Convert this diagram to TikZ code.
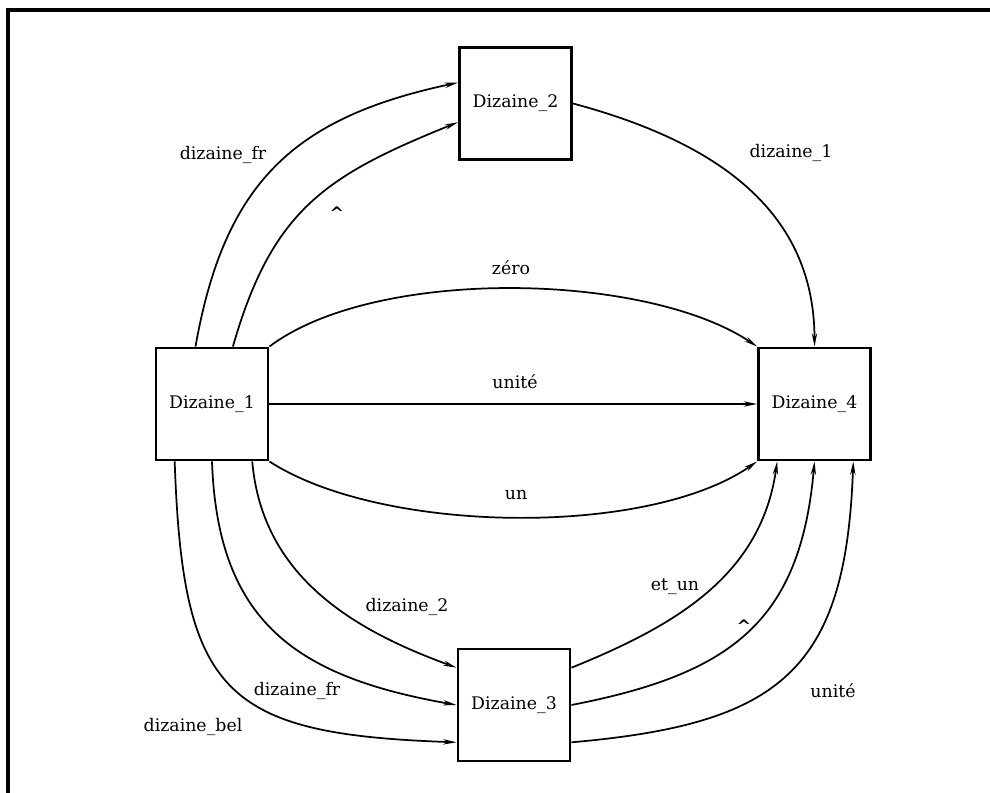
\documentclass[tikz,border=0pt]{standalone}
\usepackage{fontspec}
\setmainfont{DejaVu Serif}
\usetikzlibrary{arrows.meta}
\begin{document}
\begin{tikzpicture}[x=0.75pt, y=0.75pt,
    >={Stealth[length=10pt,width=4pt]},
    state/.style={draw, line width=2.2pt, minimum size=84pt, inner sep=0pt,
      font=\fontsize{13}{15}\selectfont},
    edge/.style={->, line width=1.3pt},
    lbl/.style={font=\fontsize{13}{15}\selectfont}]

  \useasboundingbox (0,0) rectangle (990,793);

  % 外框 (上, 左)
  \draw[line width=2.4pt] (990,783) -- (8,783) -- (8,0);

  % 状态 (方框)
  \node[state] (D1) at (212,389)     {Dizaine\_1};
  \node[state] (D2) at (515.5,689.5) {Dizaine\_2};
  \node[state] (D3) at (514,88)      {Dizaine\_3};
  \node[state] (D4) at (814.5,389)   {Dizaine\_4};

  % D1 -> D2
  \draw[edge] (D1.106) to[out=80,in=192,looseness=1.15] (D2.160);
  \draw[edge] (D1.70)  to[out=74,in=202,looseness=1.15] (D2.198);

  % D2 -> D4
  \draw[edge] (D2.east) to[out=-15,in=90,looseness=1.05] (D4.north);

  % D1 -> D4 (上, 中, 下)
  \draw[edge] (D1.north east) to[out=37,in=146,looseness=0.7] (D4.north west);
  \draw[edge] (D1.east) -- (D4.west);
  \draw[edge] (D1.south east) to[out=-33,in=215,looseness=0.7] (D4.south west);

  % D1 -> D3
  \draw[edge] (D1.305)   to[out=-85,in=160] (D3.147);
  \draw[edge] (D1.south) to[out=-88,in=170,looseness=1.2] (D3.west);
  \draw[edge] (D1.237)   to[out=-88,in=178,looseness=1.5] (D3.213);

  % D3 -> D4
  \draw[edge] (D3.33)   to[out=22,in=262] (D4.237);
  \draw[edge] (D3.east) to[out=11,in=265,looseness=1.2] (D4.south);
  \draw[edge] (D3.327)  to[out=5,in=268,looseness=1.35]  (D4.304);

  % 标签
  \node[lbl] (fr1)  at (223,638) {dizaine\_fr};
  \node[lbl] (hat1) at (337,580) {\textbf{\textasciicircum}};
  \node[lbl] (d1)   at (791,640) {dizaine\_1};
  \node[lbl] (zero) at (511,525) {zéro};
  \node[lbl] (unt1) at (515,411) {unité};
  \node[lbl] (un)   at (516,298) {un};
  \node[lbl] (d2)   at (407,186) {dizaine\_2};
  \node[lbl] (fr2)  at (297,102) {dizaine\_fr};
  \node[lbl] (bel)  at (193,66)  {dizaine\_bel};
  \node[lbl] (etun) at (675,206) {et\_un};
  \node[lbl] (hat2) at (744,167) {\textbf{\textasciicircum}};
  \node[lbl] (unt2) at (833,102) {unité};

\end{tikzpicture}
\end{document}
